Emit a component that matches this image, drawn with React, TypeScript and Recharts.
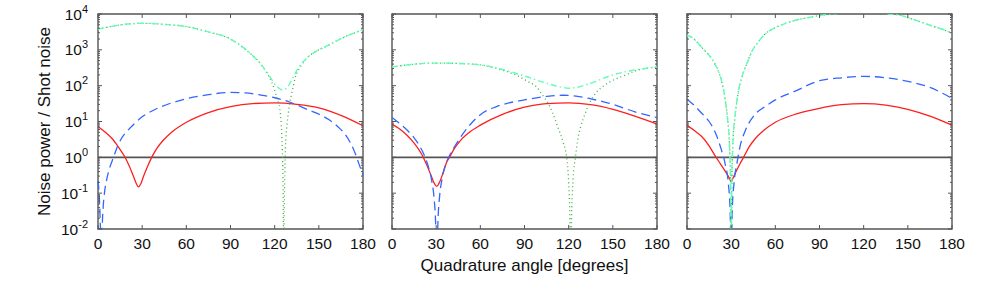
import React from 'react';
import { LineChart, Line, XAxis, YAxis, ReferenceLine, ReferenceArea } from 'recharts';

// ---- panel 1 ----
const p1RedAngle = [0, 5, 10, 14, 18, 21, 24, 26, 27.5, 29, 31, 34, 37, 40, 44, 50, 60, 75, 90, 105, 120, 135, 150, 165, 180];
const p1RedValue = [7.3, 5.0, 3.2, 1.9, 1.07, 0.6, 0.3, 0.186, 0.149, 0.18, 0.3, 0.6, 1.1, 1.78, 2.9, 5.0, 9.5, 17.8, 26, 31.6, 33, 30, 24, 14.8, 7.6];

const p1BlueAngle = [0, 1, 1.6, 2.2, 2.8, 3.5, 4.5, 6, 8, 10.5, 13.4, 16, 20, 25, 30, 37, 44, 52, 60, 75, 90, 100, 110, 120, 130, 143, 150, 157, 163, 168, 172, 175, 177, 180];
const p1BlueValue = [0.22, 0.063, 0.0126, 0.001, 0.01, 0.04, 0.11, 0.25, 0.52, 1.0, 2.1, 3.4, 5.5, 8.9, 13.5, 20, 27, 35, 43, 56, 65, 63, 55, 46, 35, 21, 16, 11.2, 7.1, 4.3, 2.3, 1.2, 0.7, 0.32];

const p1CyanAngle = [0, 10, 20, 31, 45, 60, 75, 90, 102, 111, 115, 118, 121, 123, 125, 127, 129, 131.5, 134, 138, 143, 150, 157, 168, 180];
const p1CyanValue = [3760, 4570, 5250, 5500, 5130, 4470, 3160, 2000, 890, 380, 229, 148, 100, 85, 76, 79, 95, 141, 224, 398, 650, 1000, 1380, 2340, 3630];

const p1GreenAngle = [0, 10, 20, 31, 45, 60, 75, 90, 102, 111, 115, 118, 120, 122, 123.5, 124.5, 125.2, 125.7, 126.1, 126.5, 127, 127.6, 128.5, 130, 132.2, 134.5, 137, 140, 143, 150, 157, 168, 180];
const p1GreenValue = [3760, 4570, 5250, 5500, 5130, 4470, 3160, 2000, 890, 380, 214, 126, 74, 40, 22, 7.9, 1.6, 0.16, 0.001, 0.032, 0.63, 3.2, 8.9, 28, 79, 200, 316, 479, 650, 1000, 1380, 2340, 3630];

// ---- panel 2 ----
const p2RedAngle = [0, 5, 10, 15, 20, 24, 27, 29, 30.4, 32, 34.5, 37, 39, 42, 46, 52, 60, 75, 90, 105, 120, 135, 150, 165, 180];
const p2RedValue = [8.3, 6.3, 4.2, 2.5, 1.26, 0.56, 0.28, 0.178, 0.155, 0.19, 0.35, 0.71, 1.0, 1.66, 2.8, 4.8, 7.9, 15.8, 25, 31.6, 33, 29.5, 21.9, 14.1, 8.5];

const p2BlueAngle = [0, 5, 10, 15, 19, 22.5, 25, 27, 28.5, 29.6, 30.4, 31.2, 32.3, 34, 36, 38.5, 44, 53, 60, 71, 90, 105, 116, 125, 135, 150, 157, 165, 180];
const p2BlueValue = [12.9, 8.9, 5.9, 3.5, 2.0, 1.0, 0.5, 0.22, 0.079, 0.016, 0.001, 0.016, 0.079, 0.25, 0.56, 1.0, 2.5, 8.1, 15.5, 26, 40, 50, 54, 51, 43, 30, 24, 18.6, 12.9];

const p2CyanAngle = [0, 15, 30, 45, 60, 75, 90, 105, 115, 120, 125, 135, 150, 165, 180];
const p2CyanValue = [331, 398, 427, 417, 380, 282, 186, 117, 91, 85, 89, 117, 200, 275, 331];

const p2GreenAngle = [0, 15, 30, 45, 60, 75, 85, 92, 98.5, 102, 105.5, 109, 112.3, 116, 118.6, 120, 120.8, 121.4, 122, 123, 124.6, 126, 128.2, 131, 134, 137, 144, 150, 157, 166, 180];
const p2GreenValue = [331, 398, 427, 417, 380, 269, 191, 132, 89, 56, 35, 17.8, 7.6, 2.8, 1.0, 0.2, 0.025, 0.001, 0.025, 0.25, 1.0, 2.8, 7.2, 15.8, 31.6, 52, 100, 141, 186, 263, 331];

// ---- panel 3 ----
const p3RedAngle = [0, 5, 10, 15, 19, 23, 27, 29, 30, 31, 33, 36, 38.4, 42, 46, 52, 60, 75, 90, 105, 120, 135, 150, 165, 180];
const p3RedValue = [7.8, 5.6, 3.8, 2.1, 1.12, 0.63, 0.35, 0.25, 0.21, 0.25, 0.38, 0.66, 1.0, 1.9, 3.2, 5.6, 9.5, 16.6, 23.4, 29.5, 31.6, 28.8, 21.9, 14.1, 7.9];

const p3BlueAngle = [0, 5, 10, 15, 19, 23, 26, 28, 29.3, 30, 30.7, 32, 34, 36, 39.3, 46, 53, 60, 73, 90, 105, 120, 135, 150, 165, 180];
const p3BlueValue = [42, 28, 17, 10, 5.2, 1.8, 0.63, 0.2, 0.032, 0.001, 0.032, 0.2, 0.71, 2.0, 5.2, 15.5, 26, 40, 69, 138, 166, 182, 166, 132, 89, 44];

const p3CyanAngle = [0, 4, 8, 12, 16, 19, 22, 24, 26, 27.5, 28.8, 29.6, 30, 30.4, 31.2, 32.5, 34, 36, 38, 41, 44, 48, 53, 60, 67, 75, 85, 92, 100, 110, 120, 130, 137, 143, 150, 155, 160, 164, 170, 175, 180];
const p3CyanValue = [2510, 2140, 1450, 955, 631, 398, 214, 112, 40, 12.6, 2.5, 0.16, 0.001, 0.16, 2.5, 12.6, 40, 112, 214, 447, 891, 1585, 2750, 4170, 5500, 6900, 8300, 9300, 10200, 11000, 11200, 11000, 10000, 9550, 7940, 6760, 5750, 5010, 4170, 3550, 2880];

// the dotted curve lies on top of the dash-dot one in this panel
const p3GreenAngle = p3CyanAngle;
const p3GreenValue = p3CyanValue;

// ---- axes ----
const angleTicks = [0, 30, 60, 90, 120, 150, 180];
const decadeTicks = [0.01, 0.1, 1, 10, 100, 1000, 10000];
const minorSteps = [2, 3, 4, 5, 6, 7, 8, 9];
const yTicks = [
  ...decadeTicks,
  ...decadeTicks.slice(0, -1).flatMap((d) => minorSteps.map((m) => d * m)),
].sort((a, b) => a - b);

const RED = '#ff1e1e';
const BLUE = '#3366ff';
const CYAN = '#5effb6';
const GREEN = '#3fae3f';
const FRAME = '#555555';
const FONT = '"Liberation Sans", Arial, Helvetica, sans-serif';

const PLOT_W = 265;
const PLOT_H = 215;
const RIGHT_PAD = 22;

const pts = (a: number[], v: number[]) => a.map((x, i) => ({ a: x, v: v[i] }));

const renderXTick = (props: any) => {
  const { x, y, payload } = props;
  return (
    <g>
      <line x1={x} x2={x} y1={y} y2={y - 4} stroke={FRAME} strokeWidth={1} />
      <line x1={x} x2={x} y1={y - PLOT_H} y2={y - PLOT_H + 4} stroke={FRAME} strokeWidth={1} />
      <text x={x} y={y + 19.5} textAnchor="middle" fontSize={15.5} fontFamily={FONT} fill="#111">
        {payload.value}
      </text>
    </g>
  );
};

const makeYTick = (showLabel: boolean) => (props: any) => {
  const { x, y, payload } = props;
  const lg = Math.log10(payload.value);
  const major = Math.abs(lg - Math.round(lg)) < 1e-6;
  const len = major ? 4 : 2;
  return (
    <g>
      <line x1={x} x2={x + len} y1={y} y2={y} stroke={FRAME} strokeWidth={1} />
      <line x1={x + PLOT_W} x2={x + PLOT_W - len} y1={y} y2={y} stroke={FRAME} strokeWidth={1} />
      {showLabel && major && (
        <text x={x - 10} y={y + 5.5} textAnchor="end" fontSize={15.5} fontFamily={FONT} fill="#111">
          10
          <tspan dy={-7} fontSize={11}>
            {String(Math.round(lg))}
          </tspan>
        </text>
      )}
    </g>
  );
};

interface PanelProps {
  left: number;
  yWidth: number;
  showY: boolean;
  xLabel?: string;
  yLabel?: string;
  red: { a: number; v: number }[];
  blue: { a: number; v: number }[];
  cyan: { a: number; v: number }[];
  green: { a: number; v: number }[];
}

function Panel({ left, yWidth, showY, xLabel, yLabel, red, blue, cyan, green }: PanelProps) {
  return (
    <div style={{ position: 'absolute', left: left - yWidth, top: 0 }}>
      <LineChart
        width={yWidth + PLOT_W + RIGHT_PAD}
        height={281}
        margin={{ top: 14, right: RIGHT_PAD, bottom: 22, left: 0 }}
      >
        <XAxis
          type="number"
          dataKey="a"
          domain={[0, 180]}
          ticks={angleTicks}
          interval={0}
          height={30}
          tickSize={0}
          tickMargin={0}
          axisLine={false}
          tickLine={false}
          tick={renderXTick}
          label={
            xLabel
              ? {
                  content: (p: any) => (
                    <text
                      x={p.viewBox.x + p.viewBox.width / 2}
                      y={p.viewBox.y + 42}
                      textAnchor="middle"
                      fontSize={17}
                      fontFamily={FONT}
                      fill="#111"
                    >
                      {xLabel}
                    </text>
                  ),
                }
              : undefined
          }
        />
        <YAxis
          type="number"
          scale="log"
          domain={[0.01, 10000]}
          allowDataOverflow
          ticks={yTicks}
          interval={0}
          width={yWidth}
          tickSize={0}
          tickMargin={0}
          axisLine={false}
          tickLine={false}
          tick={makeYTick(showY)}
          label={
            yLabel
              ? {
                  content: (p: any) => {
                    const cy = p.viewBox.y + p.viewBox.height / 2;
                    const lx = p.viewBox.x + 50;
                    return (
                      <text
                        x={lx}
                        y={cy}
                        transform={`rotate(-90, ${lx}, ${cy})`}
                        textAnchor="middle"
                        fontSize={17}
                        fontFamily={FONT}
                        fill="#111"
                      >
                        {yLabel}
                      </text>
                    );
                  },
                }
              : undefined
          }
        />
        <ReferenceLine y={1} stroke={FRAME} strokeWidth={1.6} />
        <Line data={red} dataKey="v" type="monotone" stroke={RED} strokeWidth={1.3} dot={false} isAnimationActive={false} />
        <Line data={blue} dataKey="v" type="monotone" stroke={BLUE} strokeWidth={1.3} strokeDasharray="9 5" dot={false} isAnimationActive={false} />
        <Line data={green} dataKey="v" type="monotone" stroke={GREEN} strokeWidth={1.3} strokeDasharray="1 3" dot={false} isAnimationActive={false} />
        <Line data={cyan} dataKey="v" type="monotone" stroke={CYAN} strokeWidth={1.4} strokeDasharray="6 3 1.5 3" dot={false} isAnimationActive={false} />
        <ReferenceArea x1={0} x2={180} y1={0.01} y2={10000} fill="none" stroke={FRAME} strokeWidth={1.4} />
      </LineChart>
    </div>
  );
}

export default function App() {
  return (
    <div style={{ position: 'absolute', left: 0, top: 0, width: 981, height: 281, background: '#fff', fontFamily: FONT }}>
      <Panel
        left={98}
        yWidth={98}
        showY
        yLabel="Noise power / Shot noise"
        red={pts(p1RedAngle, p1RedValue)}
        blue={pts(p1BlueAngle, p1BlueValue)}
        cyan={pts(p1CyanAngle, p1CyanValue)}
        green={pts(p1GreenAngle, p1GreenValue)}
      />
      <Panel
        left={392}
        yWidth={20}
        showY={false}
        xLabel="Quadrature angle [degrees]"
        red={pts(p2RedAngle, p2RedValue)}
        blue={pts(p2BlueAngle, p2BlueValue)}
        cyan={pts(p2CyanAngle, p2CyanValue)}
        green={pts(p2GreenAngle, p2GreenValue)}
      />
      <Panel
        left={687}
        yWidth={20}
        showY={false}
        red={pts(p3RedAngle, p3RedValue)}
        blue={pts(p3BlueAngle, p3BlueValue)}
        cyan={pts(p3CyanAngle, p3CyanValue)}
        green={pts(p3GreenAngle, p3GreenValue)}
      />
    </div>
  );
}
